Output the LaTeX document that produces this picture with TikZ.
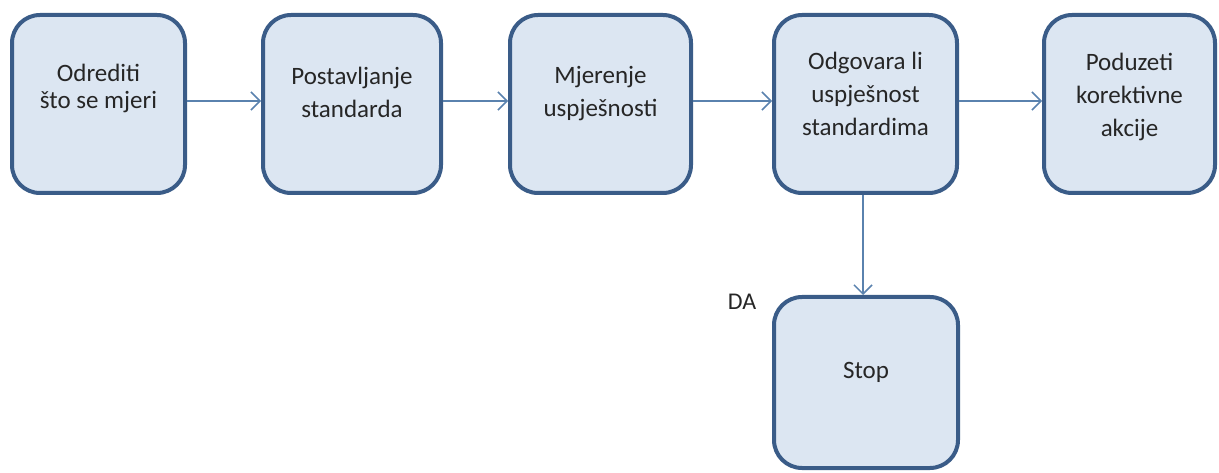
\documentclass[tikz,border=0pt]{standalone}
\usepackage{fontspec}
\setmainfont{Carlito}
\usetikzlibrary{arrows.meta}
\definecolor{boxfill}{HTML}{DCE6F2}
\definecolor{boxline}{HTML}{3A5C88}
\definecolor{arrowcol}{HTML}{5A82AE}
\definecolor{txtcol}{HTML}{262626}
\tikzset{
  flowbox/.style={draw=boxline, fill=boxfill, line width=4pt, rounded corners=28pt, inner sep=0pt},
  boxtext/.style={text=txtcol, align=center, font=\fontsize{25}{33}\selectfont, inner sep=0pt},
  flowarrow/.style={draw=arrowcol, line width=1.5pt, -{Straight Barb[length=9pt,width=18pt]}},
}
\begin{document}
\begin{tikzpicture}[x=1pt,y=-1pt]
\useasboundingbox (0,0) rectangle (1219,473);
% boxes
\node[flowbox, minimum width=173pt, minimum height=178pt] (b1) at (98.5,104) {};
\node[flowbox, minimum width=178pt, minimum height=178pt] (b2) at (352,104) {};
\node[flowbox, minimum width=181pt, minimum height=178pt] (b3) at (600.5,104) {};
\node[flowbox, minimum width=183pt, minimum height=178pt] (b4) at (865.5,104) {};
\node[flowbox, minimum width=171pt, minimum height=178pt] (b5) at (1129.5,104) {};
\node[flowbox, minimum width=184pt, minimum height=171pt] (stop) at (866,382.5) {};
% texts
\node[boxtext, font=\fontsize{25}{27}\selectfont] (t1) at (98.5,88) {Odrediti\\što se mjeri};
\node[boxtext] (t2) at (352,92) {Postavljanje\\standarda};
\node[boxtext] (t3) at (600.5,94) {Mjerenje\\uspješnosti};
\node[boxtext] (t4) at (865.5,94) {Odgovara li\\uspješnost\\standardima};
\node[boxtext] (t5) at (1129.5,97) {Poduzeti\\korektivne\\akcije};
\node[boxtext] (t6) at (866,372) {Stop};
\node[boxtext, font=\fontsize{24}{28}\selectfont] (da) at (742,302) {DA};
% connectors
\draw[flowarrow] (b1.east |- 0,101) -- (b2.west |- 0,101);
\draw[flowarrow] (b2.east |- 0,101) -- (b3.west |- 0,101);
\draw[flowarrow] (b3.east |- 0,101) -- (b4.west |- 0,101);
\draw[flowarrow] (b4.east |- 0,101) -- (b5.west |- 0,101);
\draw[flowarrow] (b4.south -| 863,0) -- (stop.north -| 863,0);
\end{tikzpicture}
\end{document}
